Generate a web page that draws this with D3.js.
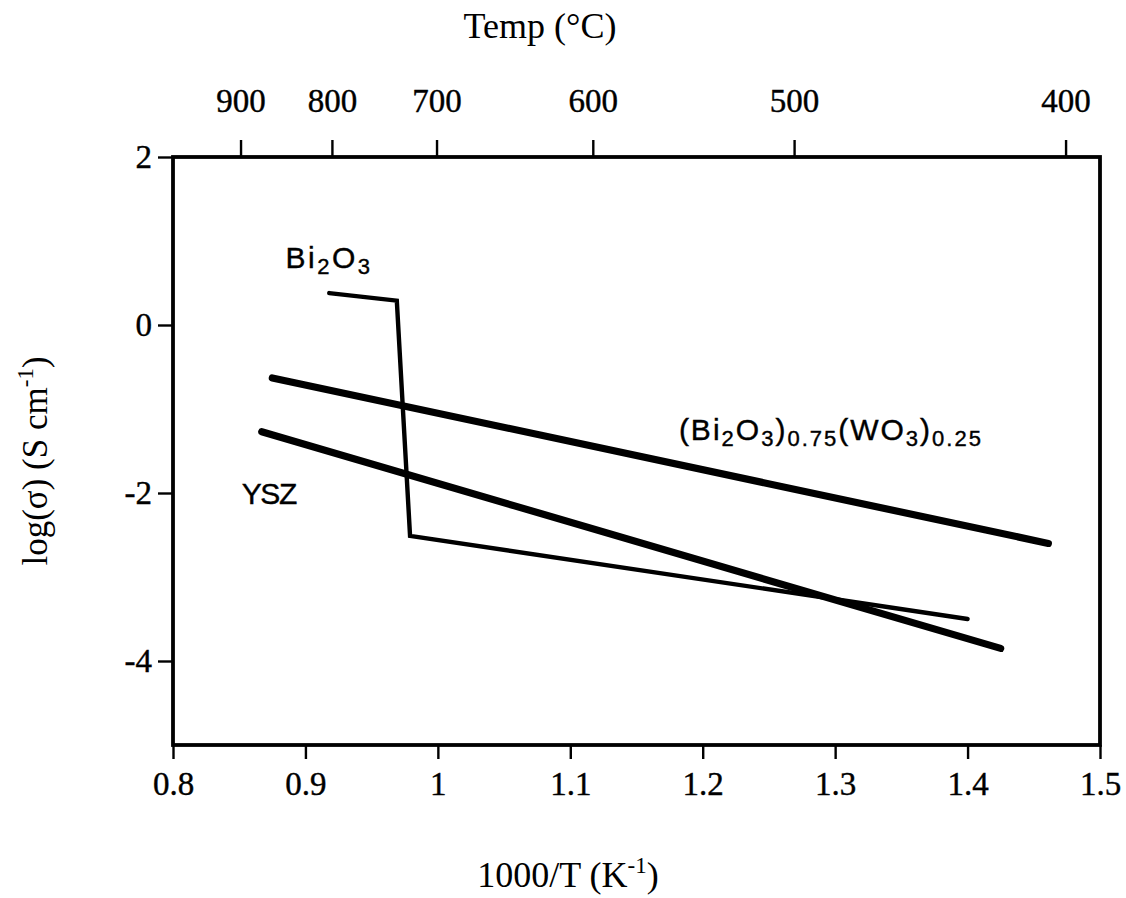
<!DOCTYPE html>
<html>
<head>
<meta charset="utf-8">
<script src="https://cdn.jsdelivr.net/npm/d3@7"></script>
<style>
  body { margin: 0; background: #fff; }
  svg { display: block; }
</style>
</head>
<body>
<div id="chart"></div>
<script>
// tick values
var xTicks = [0.8, 0.9, 1, 1.1, 1.2, 1.3, 1.4, 1.5];
var yTicks = [2, 0, -2, -4];
var tempLabels = [900, 800, 700, 600, 500, 400];
var tempTickPos = [0.851, 0.920, 0.999, 1.117, 1.269, 1.474]; // where each temp tick sits on the 1000/T axis

// series: [1000/T, log(sigma)]
var bi2o3 = [[0.918, 0.38], [0.969, 0.29], [0.979, -2.51], [1.400, -3.50]];
var bimix = [[0.875, -0.63], [1.461, -2.60]];
var ysz = [[0.867, -1.27], [1.425, -3.85]];

var width = 1126, height = 898;
var margin = { top: 157, right: 26, bottom: 153, left: 173 };

var svg = d3.select("#chart")
    .append("svg")
    .attr("width", width)
    .attr("height", height);

var x = d3.scaleLinear().domain([0.8, 1.5]).range([margin.left, width - margin.right]);
var y = d3.scaleLinear().domain([-5, 2]).range([height - margin.bottom, margin.top]);

var serif = "'Liberation Serif', 'Times New Roman', serif";
var sans = "'Liberation Sans', Arial, Helvetica, sans-serif";

/////////////////////////////////////////
// axes

var gx = svg.append("g")
    .attr("transform", "translate(0," + y(-5) + ")")
    .call(d3.axisBottom(x).tickValues(xTicks).tickSize(14).tickSizeOuter(0).tickFormat(d => String(d)));

var gy = svg.append("g")
    .attr("transform", "translate(" + x(0.8) + ",0)")
    .call(d3.axisLeft(y).tickValues(yTicks).tickSize(15).tickSizeOuter(0).tickPadding(6).tickFormat(d => String(d)));

var gt = svg.append("g")
    .attr("transform", "translate(0," + y(2) + ")")
    .call(d3.axisTop(x).tickValues(tempTickPos).tickSize(17).tickSizeOuter(0)
        .tickFormat((d, i) => tempLabels[i]));

[gx, gy, gt].forEach(function (g) {
    g.select(".domain").remove();
    g.selectAll(".tick line").attr("stroke", "#000").attr("stroke-width", 2.4);
    g.selectAll(".tick text")
        .attr("fill", "#000")
        .attr("stroke", "#000")
        .attr("stroke-width", 0.4)
        .style("font-family", serif)
        .style("font-size", "33px");
});

gx.selectAll(".tick text").attr("y", 50).attr("dy", 0);
gt.selectAll(".tick text").attr("y", -45).attr("dy", 0);

// frame
svg.append("rect")
    .attr("x", x(0.8))
    .attr("y", y(2))
    .attr("width", x(1.5) - x(0.8))
    .attr("height", y(-5) - y(2))
    .attr("fill", "none")
    .attr("stroke", "#000")
    .attr("stroke-width", 3.8);

/////////////////////////////////////////
// lines

var line = d3.line().x(d => x(d[0])).y(d => y(d[1]));

svg.append("path")
    .datum(bi2o3)
    .attr("d", line)
    .attr("fill", "none")
    .attr("stroke", "#000")
    .attr("stroke-width", 4.4)
    .attr("stroke-linejoin", "miter")
    .attr("stroke-linecap", "round");

[bimix, ysz].forEach(function (s) {
    svg.append("path")
        .datum(s)
        .attr("d", line)
        .attr("fill", "none")
        .attr("stroke", "#000")
        .attr("stroke-width", 7.2)
        .attr("stroke-linecap", "round");
});

/////////////////////////////////////////
// series labels (sans, with subscripts)

function chemLabel(px, py, parts, spacing) {
    var t = svg.append("text")
        .attr("x", x(px))
        .attr("y", y(py))
        .attr("fill", "#000")
        .attr("stroke", "#000")
        .attr("stroke-width", 0.4)
        .style("font-family", sans)
        .style("font-size", "30px")
        .style("letter-spacing", spacing + "px");
    parts.forEach(function (p) {
        var sp = t.append("tspan").text(p[0]);
        if (p[1]) sp.style("font-size", "22px").attr("dy", 6);
        else sp.attr("dy", p[2] || 0);
    });
    return t;
}

chemLabel(0.885, 0.68, [["Bi"], ["2", true], ["O", false, -6], ["3", true]], 2.5);
chemLabel(0.852, -2.13, [["YSZ"]], -1.5);
chemLabel(1.182, -1.37, [["(Bi"], ["2", true], ["O", false, -6], ["3", true], [")", false, -6], ["0.75", true],
    ["(WO", false, -6], ["3", true], [")", false, -6], ["0.25", true]], 2);

/////////////////////////////////////////
// axis titles

svg.append("text")
    .attr("x", 540)
    .attr("y", 38)
    .attr("text-anchor", "middle")
    .style("font-family", serif)
    .style("font-size", "36px")
    .text("Temp (\u00B0C)");

var xt = svg.append("text")
    .attr("x", 568)
    .attr("y", 887)
    .attr("text-anchor", "middle")
    .style("font-family", serif)
    .style("font-size", "36px");
xt.append("tspan").text("1000/T (K");
xt.append("tspan").text("-1").style("font-size", "23px").attr("dy", -14);
xt.append("tspan").text(")").attr("dy", 14);

var yt = svg.append("text")
    .attr("transform", "translate(47,461) rotate(-90)")
    .attr("text-anchor", "middle")
    .style("font-family", serif)
    .style("font-size", "35px");
yt.append("tspan").text("log(\u03C3) (S cm");
yt.append("tspan").text("-1").style("font-size", "23px").attr("dy", -14);
yt.append("tspan").text(")").attr("dy", 14);
</script>
</body>
</html>
